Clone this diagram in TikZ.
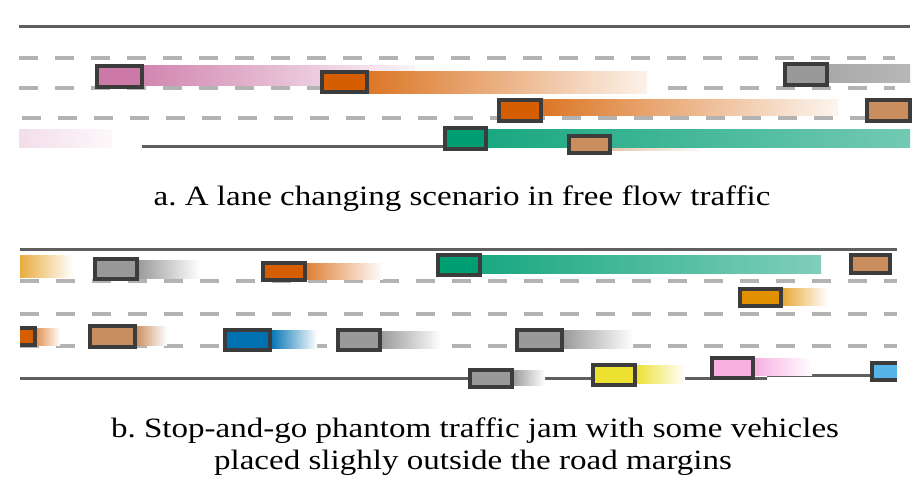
\documentclass[tikz,border=0pt]{standalone}
\usepackage{fontspec}
\setmainfont{Liberation Serif}
\frenchspacing
\definecolor{road}{HTML}{5F5F5F}
\definecolor{lane}{HTML}{B3B3B3}
\definecolor{edge}{HTML}{3C3C3C}
\definecolor{cpink}{HTML}{CC79A7}
\definecolor{cverm}{HTML}{D55E00}
\definecolor{cgreen}{HTML}{009E73}
\definecolor{cbrown}{HTML}{C98D5E}
\definecolor{cgray}{HTML}{999999}
\definecolor{corange}{HTML}{E09000}
\definecolor{cblue}{HTML}{0072B2}
\definecolor{cyellow}{HTML}{ECE030}
\definecolor{clpink}{HTML}{F7AEE0}
\definecolor{csky}{HTML}{56B4E9}
\begin{document}
\begin{tikzpicture}[x=1pt,y=-1pt,
  roadline/.style={draw=road,line width=3pt},
  laneline/.style={draw=lane,line width=3.3pt,dash pattern=on 19pt off 17pt},
  car/.style={draw=edge,line width=3.3pt},
  caption/.style={font=\fontsize{28}{32}\selectfont,inner sep=0pt,anchor=base}]
\useasboundingbox (0,0) rectangle (924,484);
\fill[white] (0,0) rectangle (924,484);
% ---------- panel a ----------
\draw[roadline] (19,27) -- (910,27);
\draw[laneline] (19,58) -- (895,58);
\draw[laneline] (19,88) -- (330,88);
\draw[laneline] (668,88) -- (895,88);
\draw[laneline] (22,118) -- (895,118);
\draw[roadline] (19,147) -- (42,147);
\draw[roadline] (142,147) -- (910,147);
% trails
\shade[left color=cpink!90, right color=cpink!8] (143,66) rectangle (415,86);
\shade[left color=cverm!85, right color=cverm!8] (367,72) rectangle (647,94);
\shade[left color=cgray!85, right color=cgray!70] (827,65) rectangle (910,83);
\shade[left color=cverm!85, right color=cverm!6] (541,100) rectangle (838,116);
\shade[left color=cbrown!70, right color=cbrown!5] (569,146) rectangle (700,151);
\shade[left color=cgreen!90, right color=cgreen!55] (486,130) rectangle (910,148);
\shade[left color=cpink!25, right color=cpink!5] (19,130) rectangle (112,148);
% cars
\filldraw[car, fill=cpink] (97,66) rectangle (142,87);
\filldraw[car, fill=cverm] (322,72) rectangle (367,92);
\filldraw[car, fill=cgray] (785,64) rectangle (827,85);
\filldraw[car, fill=cverm] (499,100) rectangle (541,121);
\filldraw[car, fill=cbrown] (867,100) rectangle (910,121);
\filldraw[car, fill=cgreen] (445,128) rectangle (486,149);
\filldraw[car, fill=cbrown] (569,136) rectangle (610,153);
\node[caption] (capa) at (462,205) {\scalebox{1.18}[1]{a. A lane changing scenario in free flow traffic}};
% ---------- panel b ----------
\draw[roadline] (20,249) -- (897,249);
\draw[laneline] (20,281) -- (897,281);
\draw[laneline] (20,314) -- (897,314);
\draw[laneline] (20,346) -- (897,346);
\draw[roadline] (20,378) -- (767,378);
\draw[roadline] (767,375) -- (872,375);
% trails
\shade[left color=corange!75, right color=white] (20,255) rectangle (73,277);
\shade[left color=cgray, right color=white] (137,260) rectangle (200,278);
\shade[left color=cverm!80, right color=white] (305,263) rectangle (383,279);
\shade[left color=cgreen!90, right color=cgreen!50] (480,255) rectangle (821,273);
\shade[left color=corange!80, right color=white] (781,288) rectangle (828,305);
\shade[left color=cverm!70, right color=white] (35,328) rectangle (60,345);
\shade[left color=cbrown, right color=white] (135,326) rectangle (167,345);
\shade[left color=cblue, right color=white] (270,330) rectangle (317,348);
\shade[left color=cgray, right color=white] (380,331) rectangle (441,348);
\shade[left color=cgray, right color=white] (562,330) rectangle (633,348);
\shade[left color=cgray, right color=white] (512,370) rectangle (545,385);
\shade[left color=cyellow, right color=white] (635,365) rectangle (685,383);
\shade[left color=clpink, right color=white] (753,358) rectangle (812,375);
% cars
\filldraw[car, fill=cgray] (95,259) rectangle (137,279);
\filldraw[car, fill=cverm] (263,263) rectangle (305,280);
\filldraw[car, fill=cgreen] (438,255) rectangle (480,275);
\filldraw[car, fill=cbrown] (851,255) rectangle (890,273);
\filldraw[car, fill=corange] (740,289) rectangle (781,306);
\fill[cverm] (20,328) rectangle (35,345);
\draw[car] (20,328) -- (35,328) -- (35,345) -- (20,345);
\filldraw[car, fill=cbrown] (90,326) rectangle (135,347);
\filldraw[car, fill=cblue] (225,330) rectangle (270,350);
\filldraw[car, fill=cgray] (338,330) rectangle (380,350);
\filldraw[car, fill=cgray] (517,330) rectangle (562,350);
\filldraw[car, fill=cgray] (470,370) rectangle (512,387);
\filldraw[car, fill=cyellow] (593,365) rectangle (635,385);
\filldraw[car, fill=clpink] (712,358) rectangle (753,378);
\fill[csky] (872,363) rectangle (897,380);
\draw[car] (897,363) -- (872,363) -- (872,380) -- (897,380);
\node[caption] (capb1) at (475,437) {\scalebox{1.18}[1]{b. Stop-and-go phantom traffic jam with some vehicles}};
\node[caption] (capb2) at (473,469) {\scalebox{1.18}[1]{placed slighly outside the road margins}};
\end{tikzpicture}
\end{document}
